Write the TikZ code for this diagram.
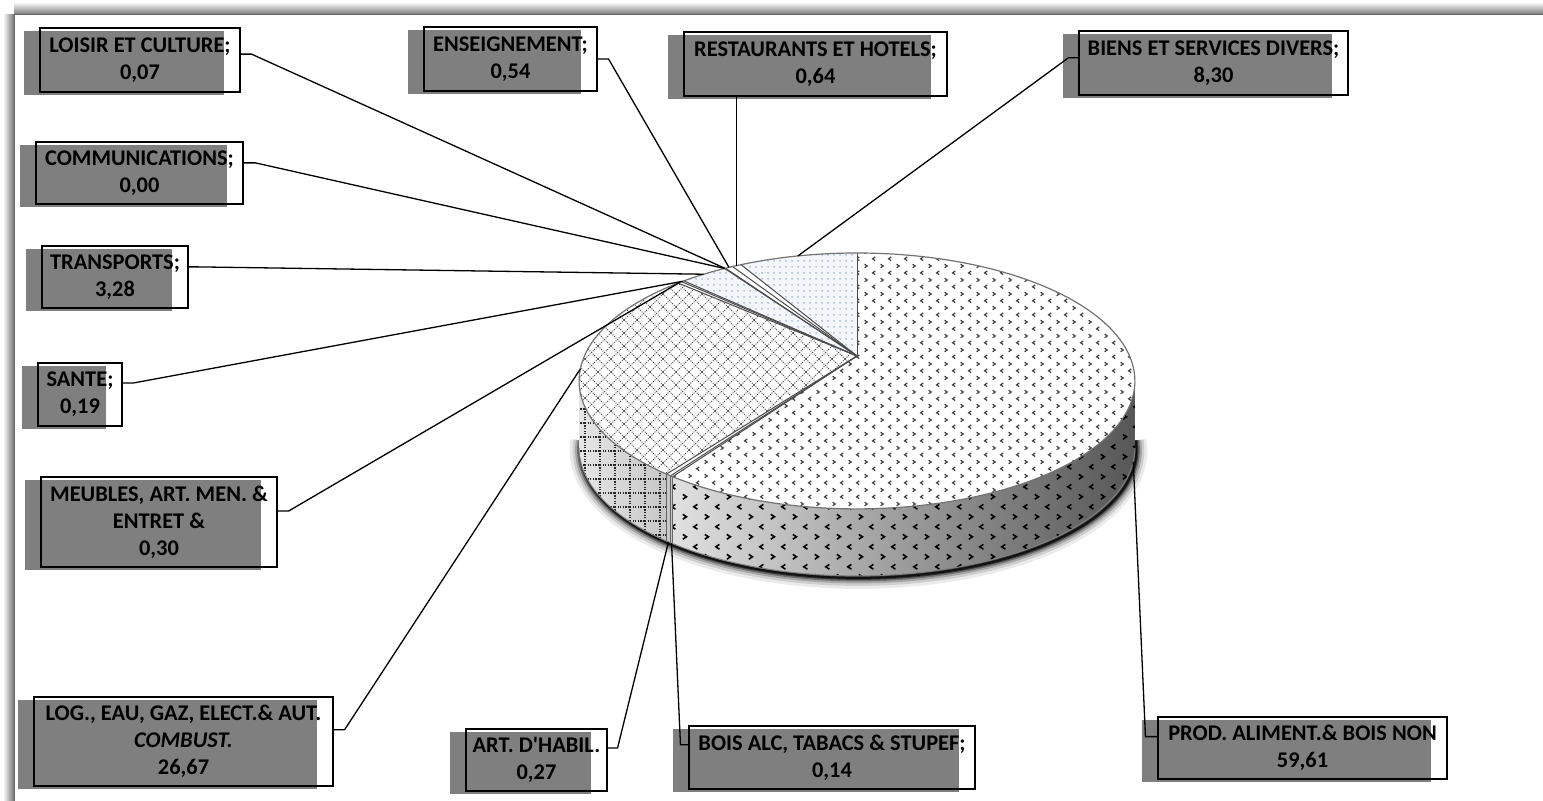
\documentclass[tikz,border=0pt]{standalone}
\usepackage{fontspec}
\setmainfont{Carlito}
\usetikzlibrary{patterns,shadows,calc}
\definecolor{labgray}{HTML}{7F7F7F}
\definecolor{bluebg}{HTML}{F3F6FB}
\definecolor{bluedot}{HTML}{8A9DC0}
\pgfdeclarepatternformonly{chevS}{\pgfqpoint{-1pt}{-1pt}}{\pgfqpoint{9pt}{8pt}}{\pgfqpoint{8pt}{7pt}}{%
 \pgfsetlinewidth{0.6pt}%
 \pgfpathmoveto{\pgfqpoint{0.3pt}{2.4pt}}\pgfpathlineto{\pgfqpoint{1.6pt}{1.5pt}}\pgfpathlineto{\pgfqpoint{0.3pt}{0.6pt}}%
 \pgfpathmoveto{\pgfqpoint{5.6pt}{6.0pt}}\pgfpathlineto{\pgfqpoint{4.3pt}{5.1pt}}\pgfpathlineto{\pgfqpoint{5.6pt}{4.2pt}}%
 \pgfusepath{stroke}}
\pgfdeclarepatternformonly{chevL}{\pgfqpoint{-1pt}{-1pt}}{\pgfqpoint{12pt}{11pt}}{\pgfqpoint{11pt}{10pt}}{%
 \pgfsetlinewidth{0.8pt}%
 \pgfpathmoveto{\pgfqpoint{0.4pt}{3.3pt}}\pgfpathlineto{\pgfqpoint{2.2pt}{2.1pt}}\pgfpathlineto{\pgfqpoint{0.4pt}{0.9pt}}%
 \pgfpathmoveto{\pgfqpoint{7.7pt}{8.3pt}}\pgfpathlineto{\pgfqpoint{5.9pt}{7.1pt}}\pgfpathlineto{\pgfqpoint{7.7pt}{5.9pt}}%
 \pgfusepath{stroke}}
\pgfdeclarepatternformonly{diagdots}{\pgfqpoint{-0.5pt}{-0.5pt}}{\pgfqpoint{7pt}{7pt}}{\pgfqpoint{6.5pt}{6.5pt}}{%
 \pgfsetlinewidth{0.5pt}\pgfsetdash{{0.5pt}{0.6pt}}{0pt}%
 \pgfpathmoveto{\pgfqpoint{0pt}{0pt}}\pgfpathlineto{\pgfqpoint{6.5pt}{6.5pt}}%
 \pgfpathmoveto{\pgfqpoint{0pt}{6.5pt}}\pgfpathlineto{\pgfqpoint{6.5pt}{0pt}}%
 \pgfusepath{stroke}}
\pgfdeclarepatternformonly{sgrid}{\pgfqpoint{-0.5pt}{-0.5pt}}{\pgfqpoint{8pt}{7.5pt}}{\pgfqpoint{7.5pt}{7pt}}{%
 \pgfsetlinewidth{0.6pt}\pgfsetdash{{0.6pt}{0.7pt}}{0pt}%
 \pgfpathmoveto{\pgfqpoint{0pt}{0pt}}\pgfpathlineto{\pgfqpoint{0pt}{7pt}}%
 \pgfpathmoveto{\pgfqpoint{0pt}{0pt}}\pgfpathlineto{\pgfqpoint{7.5pt}{0pt}}%
 \pgfusepath{stroke}}
\pgfdeclarepatternformonly{bdots}{\pgfqpoint{-0.5pt}{-0.5pt}}{\pgfqpoint{0.5pt}{0.5pt}}{\pgfqpoint{3pt}{3pt}}{%
 \pgfpathcircle{\pgfqpoint{0pt}{0pt}}{0.38pt}\pgfusepath{fill}}
\newcommand\sliceP[2]{(857,356) -- plot[domain=#1:#2,samples=70] ({px(\x)},{py(\x)}) -- cycle}
\newcommand\sideP[2]{plot[domain=#1:#2,samples=60] ({px(\x)},{py(\x)}) -- plot[domain=#2:#1,samples=60] ({px(\x)},{py(\x)+67}) -- cycle}
\begin{document}
\begin{tikzpicture}[x=0.5pt,y=-0.5pt,
 declare function={px(\t)=857+272.6*sin(\t)/(1+0.195*cos(\t)); py(\t)=356-123.1*cos(\t)/(1+0.195*cos(\t));},
 lbl/.style={draw=black, line width=0.55pt, align=center, inner sep=0pt,
   font=\fontsize{11.2}{13.6}\selectfont\bfseries,
   drop shadow={shadow xshift=-8pt, shadow yshift=-1.5pt, opacity=1, fill=labgray}},
 conn/.style={draw=black, line width=0.65pt},
 radial/.style={draw=black!70, line width=0.5pt}]
\useasboundingbox (0,0) rectangle (1543,801);
% frame shadow
\shade[top color=white, bottom color=black!55] (14,2) rectangle (1543,15);
\shade[left color=white, right color=black!55] (3,15) rectangle (14,801);
\draw[black!60, line width=0.5pt] (14,801) -- (14,15) -- (1543,15);
% pie shadow
\foreach \w/\o in {11pt/0.08, 8pt/0.12, 5.5pt/0.2, 3.5pt/0.32, 2pt/0.5, 1pt/0.7}
  \draw[line width=\w, black, opacity=\o] plot[domain=97:263, samples=90] ({px(\x)+1.5},{py(\x)+69});
% pie sides
\shade[left color=black!12, right color=black!66] \sideP{101.25}{214.596};
\fill[pattern=chevL, pattern color=black] \sideP{101.25}{214.596};
\fill[black!22] \sideP{214.596}{216.072};
\shade[left color=black!10, right color=black!22] \sideP{216.072}{258.75};
\fill[pattern=sgrid, pattern color=black!85] \sideP{216.072}{258.75};
\foreach \b in {214.596,215.1,216.072}
  \draw[black!60, line width=0.5pt] ({px(\b)},{py(\b)}) -- ({px(\b)},{py(\b)+67});
\draw[black!50, line width=0.5pt] plot[domain=101.25:258.75, samples=90] ({px(\x)},{py(\x)+67});
% pie top
\fill[white] \sliceP{0}{214.596};
\fill[pattern=chevS, pattern color=black!75] \sliceP{0}{214.596};
\fill[white] \sliceP{214.596}{216.072};
\fill[white] \sliceP{216.072}{312.084};
\fill[pattern=diagdots, pattern color=black!70] \sliceP{216.072}{312.084};
\fill[white] \sliceP{312.084}{313.848};
\fill[bluebg] \sliceP{313.848}{325.656};
\fill[pattern=bdots, pattern color=bluedot] \sliceP{313.848}{325.656};
\fill[white] \sliceP{325.656}{330.156};
\fill[bluebg] \sliceP{330.156}{360};
\fill[pattern=bdots, pattern color=bluedot] \sliceP{330.156}{360};
\foreach \b in {0,214.596,215.1,216.072,312.084,313.164,313.848,325.656,325.908,327.852,330.156}
  \draw[radial] (857,356) -- ({px(\b)},{py(\b)});
\draw[black!55, line width=0.6pt] plot[domain=0:360, samples=160] ({px(\x)},{py(\x)}) -- cycle;
% rim anchor points
\coordinate (rLOI) at ({px(325.78)},{py(325.78)});
\coordinate (rCOM) at ({px(325.66)},{py(325.66)});
\coordinate (rTRA) at ({px(319.75)},{py(319.75)});
\coordinate (rSAN) at ({px(313.5)},{py(313.5)});
\coordinate (rMEU) at ({px(312.62)},{py(312.62)});
\coordinate (rLOG) at ({px(264.08)},{py(264.08)});
\coordinate (rENS) at ({px(326.88)},{py(326.88)});
\coordinate (rRES) at ({px(329.0)},{py(329.0)});
\coordinate (rBIE) at ({px(345.08)},{py(345.08)});
\coordinate (rPRO) at ({px(107.3)},{py(107.3)+67});
\coordinate (rBOI) at ({px(214.85)},{py(214.85)+67});
\coordinate (rHAB) at ({px(215.59)},{py(215.59)+67});
% labels
\node[lbl, minimum width=100pt, minimum height=32pt] (nLOI) at (140,60) {LOISIR ET CULTURE;\\0,07};
\node[lbl, minimum width=103.5pt, minimum height=31pt] (nCOM) at (139.5,173) {COMMUNICATIONS;\\0,00};
\node[lbl, minimum width=73pt, minimum height=31pt] (nTRA) at (115,277) {TRANSPORTS;\\3,28};
\node[lbl, minimum width=42pt, minimum height=31.5pt] (nSAN) at (80,394.5) {SANTE;\\0,19};
\node[lbl, minimum width=118pt, minimum height=45pt] (nMEU) at (159,522) {MEUBLES, ART. MEN. \&\\ENTRET \&\\0,30};
\node[lbl, minimum width=149.5pt, minimum height=44.5pt] (nLOG) at (183.5,741.5) {LOG., EAU, GAZ, ELECT.\& AUT.\\\textit{COMBUST.}\\26,67};
\node[lbl, minimum width=70.5pt, minimum height=31pt] (nHAB) at (536.5,760) {ART. D\textquotesingle HABIL.\\0,27};
\node[lbl, minimum width=143pt, minimum height=31.5pt] (nBOI) at (832,757.5) {BOIS ALC, TABACS \& STUPEF;\\0,14};
\node[lbl, minimum width=144.5pt, minimum height=31pt] (nPRO) at (1302.5,748) {PROD. ALIMENT.\& BOIS NON\\59,61};
\node[lbl, minimum width=86.5pt, minimum height=32pt] (nENS) at (510.5,59) {ENSEIGNEMENT;\\0,54};
\node[lbl, minimum width=131.5pt, minimum height=32pt] (nRES) at (815.5,64) {RESTAURANTS ET HOTELS;\\0,64};
\node[lbl, minimum width=134.5pt, minimum height=32pt] (nBIE) at (1213.5,63) {BIENS ET SERVICES DIVERS;\\8,30};
% connectors
\draw[conn] ($(nLOI.north east)!0.41!(nLOI.south east)$) -- ++(11,0) -- (rLOI);
\draw[conn] ($(nCOM.north east)!0.34!(nCOM.south east)$) -- ++(12,0) -- (rCOM);
\draw[conn] ($(nTRA.north east)!0.34!(nTRA.south east)$) -- ++(10,0) -- (rTRA);
\draw[conn] ($(nSAN.north east)!0.32!(nSAN.south east)$) -- ++(11,0) -- (rSAN);
\draw[conn] ($(nMEU.north east)!0.38!(nMEU.south east)$) -- ++(11,0) -- (rMEU);
\draw[conn] ($(nLOG.north east)!0.37!(nLOG.south east)$) -- ++(11,0) -- (rLOG);
\draw[conn] ($(nHAB.north east)!0.31!(nHAB.south east)$) -- ++(10,0) -- (rHAB);
\draw[conn] ($(nBOI.north west)!0.3!(nBOI.south west)$) -- ++(-8,0) -- (rBOI);
\draw[conn] ($(nPRO.north west)!0.32!(nPRO.south west)$) -- ++(-12,0) -- (rPRO);
\draw[conn] ($(nENS.north east)!0.5!(nENS.south east)$) -- ++(11,0) -- (rENS);
\draw[conn] (nRES.south -| rRES) -- (rRES);
\draw[conn] ($(nBIE.north west)!0.42!(nBIE.south west)$) -- ++(-10,0) -- (rBIE);
\end{tikzpicture}
\end{document}
